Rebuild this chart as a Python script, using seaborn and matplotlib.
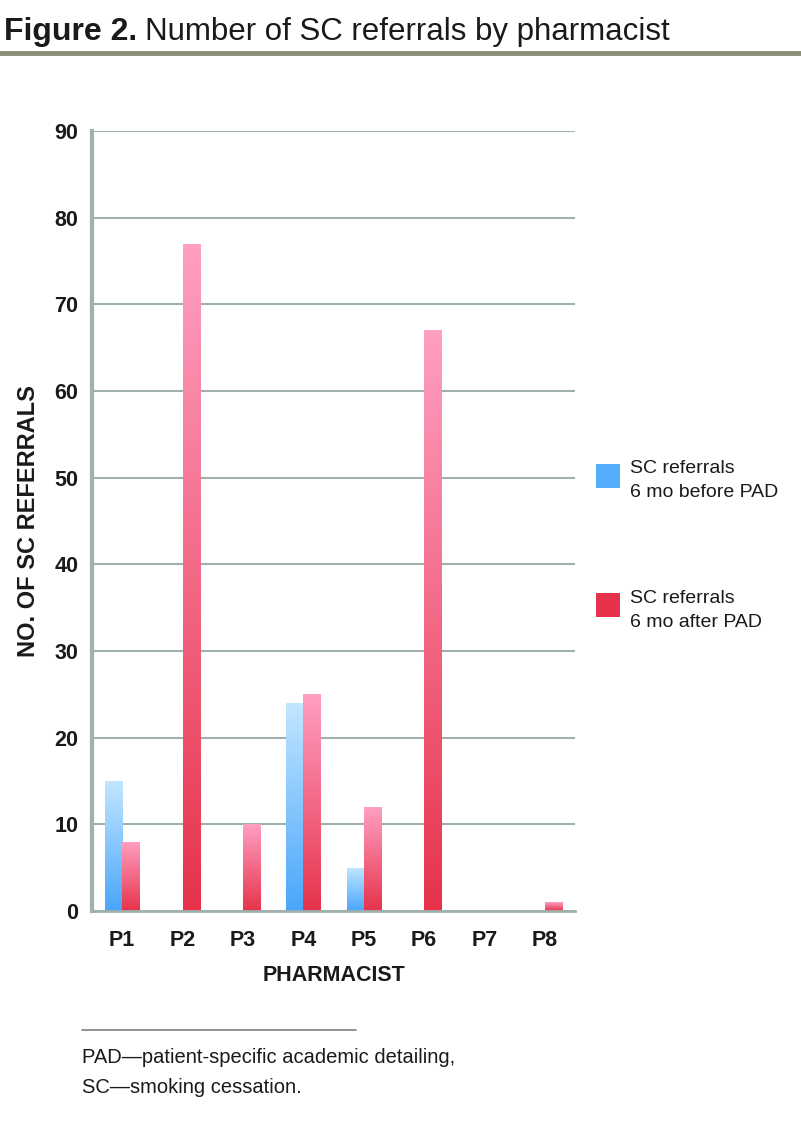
import numpy as np
import pandas as pd
import seaborn as sns
import matplotlib.pyplot as plt
from matplotlib.colors import LinearSegmentedColormap
from matplotlib.lines import Line2D
from matplotlib.patches import Rectangle

# data
pharmacists = ["P1", "P2", "P3", "P4", "P5", "P6", "P7", "P8"]
before_pad = [15, 0, 0, 24, 5, 0, 0, 0]
after_pad = [8, 77, 10, 25, 12, 67, 0, 1]
series_names = ["SC referrals\n6 mo before PAD", "SC referrals\n6 mo after PAD"]
y_ticks = [0, 10, 20, 30, 40, 50, 60, 70, 80, 90]

df = pd.DataFrame({
    "pharmacist": pharmacists * 2,
    "referrals": before_pad + after_pad,
    "series": [series_names[0]] * len(pharmacists) + [series_names[1]] * len(pharmacists),
})

sns.set_style("white")
plt.rcParams["font.family"] = ["Liberation Sans", "DejaVu Sans"]

grid_col = "#9fb0ad"
text_col = "#1a1a1a"
blue_top, blue_bot = "#c2e6ff", "#4aa6fb"
red_top, red_bot = "#ff9fc2", "#e6334b"

fig = plt.figure(figsize=(8.01, 11.33), dpi=100)
ax = fig.add_axes([0.1149, 0.196, 0.6030, 0.6884])

sns.barplot(data=df, x="pharmacist", y="referrals", hue="series",
            palette=[blue_bot, red_bot], width=0.57, dodge=True,
            legend=False, ax=ax, saturation=1)

ax.set_ylim(0, 90)
ax.set_xlim(-0.5, 7.5)
ax.set_yticks(y_ticks)
ax.yaxis.grid(True, color=grid_col, linewidth=1.5)
ax.set_axisbelow(True)

# vertical gradient fill for each bar
cmaps = [LinearSegmentedColormap.from_list("b", [blue_bot, blue_top]),
         LinearSegmentedColormap.from_list("r", [red_bot, red_top])]
grad = np.linspace(0, 1, 256).reshape(-1, 1)
n = len(pharmacists)
for i, patch in enumerate(ax.patches[:2 * n]):
    h = patch.get_height()
    if h <= 0:
        continue
    x0 = patch.get_x()
    w = patch.get_width()
    patch.set_facecolor("none")
    patch.set_edgecolor("none")
    im = ax.imshow(grad, cmap=cmaps[i // n], origin="lower", aspect="auto",
                   extent=[x0, x0 + w, 0, h], zorder=2)
    im.set_clip_path(patch)
ax.set_xlim(-0.5, 7.5)
ax.set_ylim(0, 90)

for s in ["top", "right"]:
    ax.spines[s].set_visible(False)
ax.spines["left"].set_color(grid_col)
ax.spines["left"].set_linewidth(3)
ax.spines["bottom"].set_color(grid_col)
ax.spines["bottom"].set_linewidth(2)

# category separator ticks on x
ax.set_xticks(np.arange(-0.5, 8, 1), minor=True)
ax.tick_params(axis="x", which="minor", length=8, width=1.5, color=grid_col, direction="out")
ax.tick_params(axis="x", which="major", length=0, pad=14, labelsize=15.5, labelcolor=text_col)
ax.tick_params(axis="y", length=7, width=1.5, color=grid_col, pad=3, labelsize=15.5, labelcolor=text_col)
for lab in ax.get_xticklabels() + ax.get_yticklabels():
    lab.set_fontweight("bold")

ax.set_xlabel("PHARMACIST", fontsize=15.5, fontweight="bold", color=text_col, labelpad=10)
ax.set_ylabel("NO. OF SC REFERRALS", fontsize=17, fontweight="bold", color=text_col)
ax.yaxis.set_label_coords(-0.108, 0.5)

# legend drawn in figure coords
for yy, col, name in [(0.5695, "#55acfc", series_names[0]), (0.455, red_bot, series_names[1])]:
    fig.patches.append(Rectangle((0.744, yy), 0.030, 0.0212, transform=fig.transFigure,
                                 facecolor=col, edgecolor="none"))
    fig.text(0.786, yy + 0.0245, name, fontsize=14, color=text_col, va="top",
             linespacing=1.55)

# title and rules
t1 = fig.text(0.005, 0.985, "Figure 2.", fontsize=23, fontweight="bold", color=text_col, va="top")
fig.canvas.draw()
bb = t1.get_window_extent().transformed(fig.transFigure.inverted())
fig.text(bb.x1 + 0.010, 0.985, "Number of SC referrals by pharmacist", fontsize=22.5,
         color=text_col, va="top")
fig.add_artist(Line2D([0, 1], [0.953, 0.953], transform=fig.transFigure,
                      color="#8a8c76", linewidth=3.5))
fig.add_artist(Line2D([0.102, 0.445], [0.0905, 0.0905], transform=fig.transFigure,
                      color="#7f7f7f", linewidth=1.2))
fig.text(0.102, 0.075, "PAD\u2014patient-specific academic detailing,\nSC\u2014smoking cessation.",
         fontsize=14.5, color=text_col, va="top", linespacing=1.75)

fig.savefig("out.png", dpi=100)
